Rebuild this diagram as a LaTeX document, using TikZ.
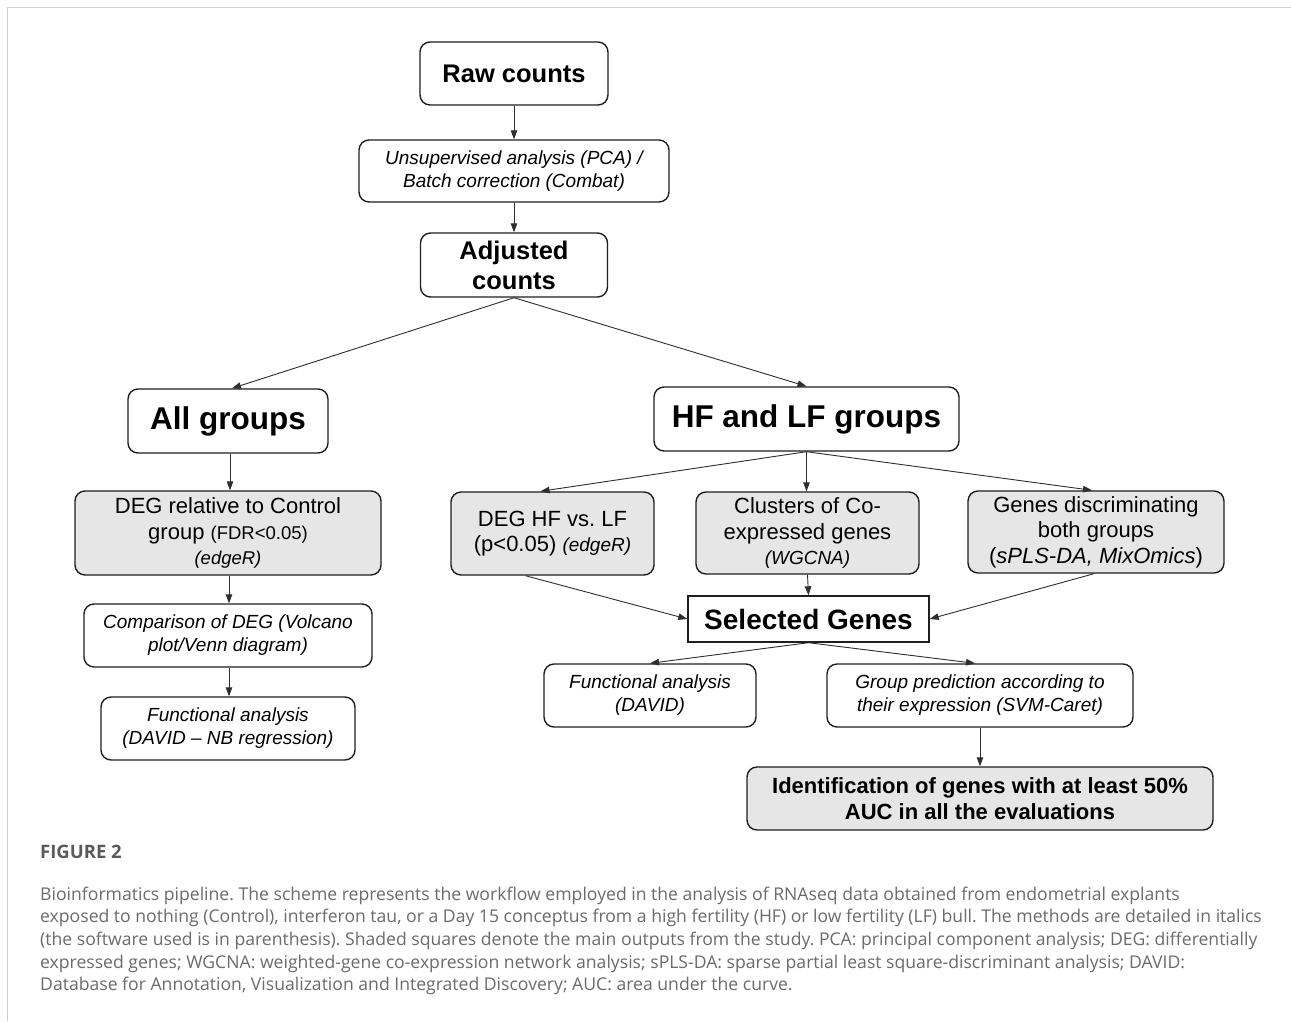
\documentclass[tikz,border=0pt]{standalone}
\usepackage{fontspec}
\setmainfont{Liberation Sans}
\newfontfamily\capfont{Open Sans}
\usetikzlibrary{arrows.meta}
\definecolor{ln}{HTML}{2E2E2E}
\definecolor{shade}{HTML}{E6E6E6}
\definecolor{capgray}{HTML}{6B6B6B}
\definecolor{capdark}{HTML}{5A5A5A}
\definecolor{framegray}{HTML}{CFCFCF}
\frenchspacing
\begin{document}
\begin{tikzpicture}[x=1pt,y=-1pt,
  box/.style={draw=black!88, line width=1.4pt, rounded corners=10pt, align=center, inner sep=0pt, text=black},
  wbox/.style={box, fill=white},
  gbox/.style={box, fill=shade},
  arr/.style={draw=ln, line width=0.9pt, -{Triangle[length=9pt,width=6.5pt]}},
  fbig/.style={font=\fontsize{25.5}{30}\selectfont\bfseries},
  fhuge/.style={font=\fontsize{31.5}{36}\selectfont\bfseries},
  fmid/.style={font=\fontsize{22}{25.5}\selectfont},
  fit/.style={font=\fontsize{19}{23}\selectfont\itshape},
  capline/.style={anchor=base west, inner sep=0pt, text=capgray, font=\capfont\fontsize{17.6}{22}\selectfont}
]
\useasboundingbox (0,0) rectangle (1291,1021);
\fill[white] (0,0) rectangle (1291,1021);
\draw[framegray, line width=1.3pt] (7.5,1021) -- (7.5,7.5) -- (1291,7.5);

% top chain
\node[wbox, fbig, minimum width=188pt, minimum height=63pt] (raw) at (514,73.5) {Raw counts};
\node[wbox, fit, minimum width=310pt, minimum height=62pt] (unsup) at (514,171) {Unsupervised analysis (PCA) /\\Batch correction (Combat)};
\node[wbox, fbig, minimum width=187pt, minimum height=64pt] (adj) at (514,265) {Adjusted\\counts};

% groups
\node[wbox, fhuge, minimum width=200pt, minimum height=64pt] (all) at (228,421) {All groups};
\node[wbox, fhuge, minimum width=305pt, minimum height=64pt] (hflf) at (806.5,419) {HF and LF groups};

% left branch
\node[gbox, fmid, minimum width=306pt, minimum height=84pt] (degc) at (228,533)
  {DEG relative to Control\\group {\fontsize{18.5}{22}\selectfont (FDR<0.05)}\\{\fontsize{18.5}{22}\selectfont\itshape (edgeR)}};
\node[wbox, fit, minimum width=288pt, minimum height=63pt] (comp) at (228,635.5) {Comparison of DEG (Volcano\\plot/Venn diagram)};
\node[wbox, fit, minimum width=254pt, minimum height=63pt] (funcL) at (228,728.5) {Functional analysis\\(DAVID -- NB regression)};

% right branch
\node[gbox, fmid, minimum width=203pt, minimum height=83pt] (deghf) at (552.5,533.5)
  {DEG HF vs. LF\\(p<0.05) {\fontsize{19}{22}\selectfont\itshape (edgeR)}};
\node[gbox, fmid, minimum width=223pt, minimum height=82pt] (clus) at (807.5,533)
  {Clusters of Co-\\expressed genes\\{\fontsize{19}{22}\selectfont\itshape (WGCNA)}};
\node[gbox, fmid, minimum width=256pt, minimum height=82pt] (gdisc) at (1096,532)
  {Genes discriminating\\both groups\\({\itshape sPLS-DA, MixOmics})};

\node[draw=black!88, line width=1.4pt, fill=white, inner sep=0pt, font=\fontsize{28}{32}\selectfont\bfseries,
  minimum width=241pt, minimum height=46pt] (sel) at (808.5,619) {Selected Genes};

\node[wbox, fit, minimum width=212pt, minimum height=63pt] (funcR) at (650,695.5) {Functional analysis\\(DAVID)};
\node[wbox, fit, minimum width=306pt, minimum height=63pt] (gpred) at (980,695.5) {Group prediction according to\\their expression (SVM-Caret)};
\node[gbox, font=\fontsize{22}{25.5}\selectfont\bfseries, minimum width=466pt, minimum height=63pt] (ident) at (980,798.5)
  {Identification of genes with at least 50\%\\AUC in all the evaluations};

% connectors
\draw[arr] (raw.south) -- (unsup.north);
\draw[arr] (unsup.south) -- (adj.north);
\draw[arr] (adj.south) -- ([xshift=4pt]all.north);
\draw[arr] (adj.south) -- (hflf.north);
\draw[arr] ([xshift=2pt]all.south) -- ([xshift=2pt]degc.north);
\draw[arr] ([xshift=1pt]degc.south) -- ([xshift=1pt]comp.north);
\draw[arr] ([xshift=1pt]comp.south) -- ([xshift=1pt]funcL.north);
\draw[arr] (hflf.south) -- ([xshift=-12pt]deghf.north);
\draw[arr] (hflf.south) -- ([xshift=-1pt]clus.north);
\draw[arr] (hflf.south) -- ([xshift=-4pt]gdisc.north);
\draw[arr] ([xshift=-27pt]deghf.south) -- (sel.west);
\draw[arr] (clus.south) -- (sel.north);
\draw[arr] ([xshift=-2pt]gdisc.south) -- (sel.east);
\draw[arr] (sel.south) -- (funcR.north);
\draw[arr] (sel.south) -- ([xshift=-5pt]gpred.north);
\draw[arr] (gpred.south) -- (ident.north);

% caption
\node[anchor=base west, inner sep=0pt, text=capdark, font=\capfont\fontsize{18.5}{20}\selectfont\bfseries] (fig) at (40,858) {FIGURE 2};
\node[capline] (c1) at (40,900) {Bioinformatics pipeline. The scheme represents the workflow employed in the analysis of RNAseq data obtained from endometrial explants};
\node[capline] (c2) at (40,922.7) {exposed to nothing (Control), interferon tau, or a Day 15 conceptus from a high fertility (HF) or low fertility (LF) bull. The methods are detailed in italics};
\node[capline] (c3) at (40,945.4) {(the software used is in parenthesis). Shaded squares denote the main outputs from the study. PCA: principal component analysis; DEG: differentially};
\node[capline] (c4) at (40,968.1) {expressed genes; WGCNA: weighted-gene co-expression network analysis; sPLS-DA: sparse partial least square-discriminant analysis; DAVID:};
\node[capline] (c5) at (40,990.8) {Database for Annotation, Visualization and Integrated Discovery; AUC: area under the curve.};
\end{tikzpicture}
\end{document}
